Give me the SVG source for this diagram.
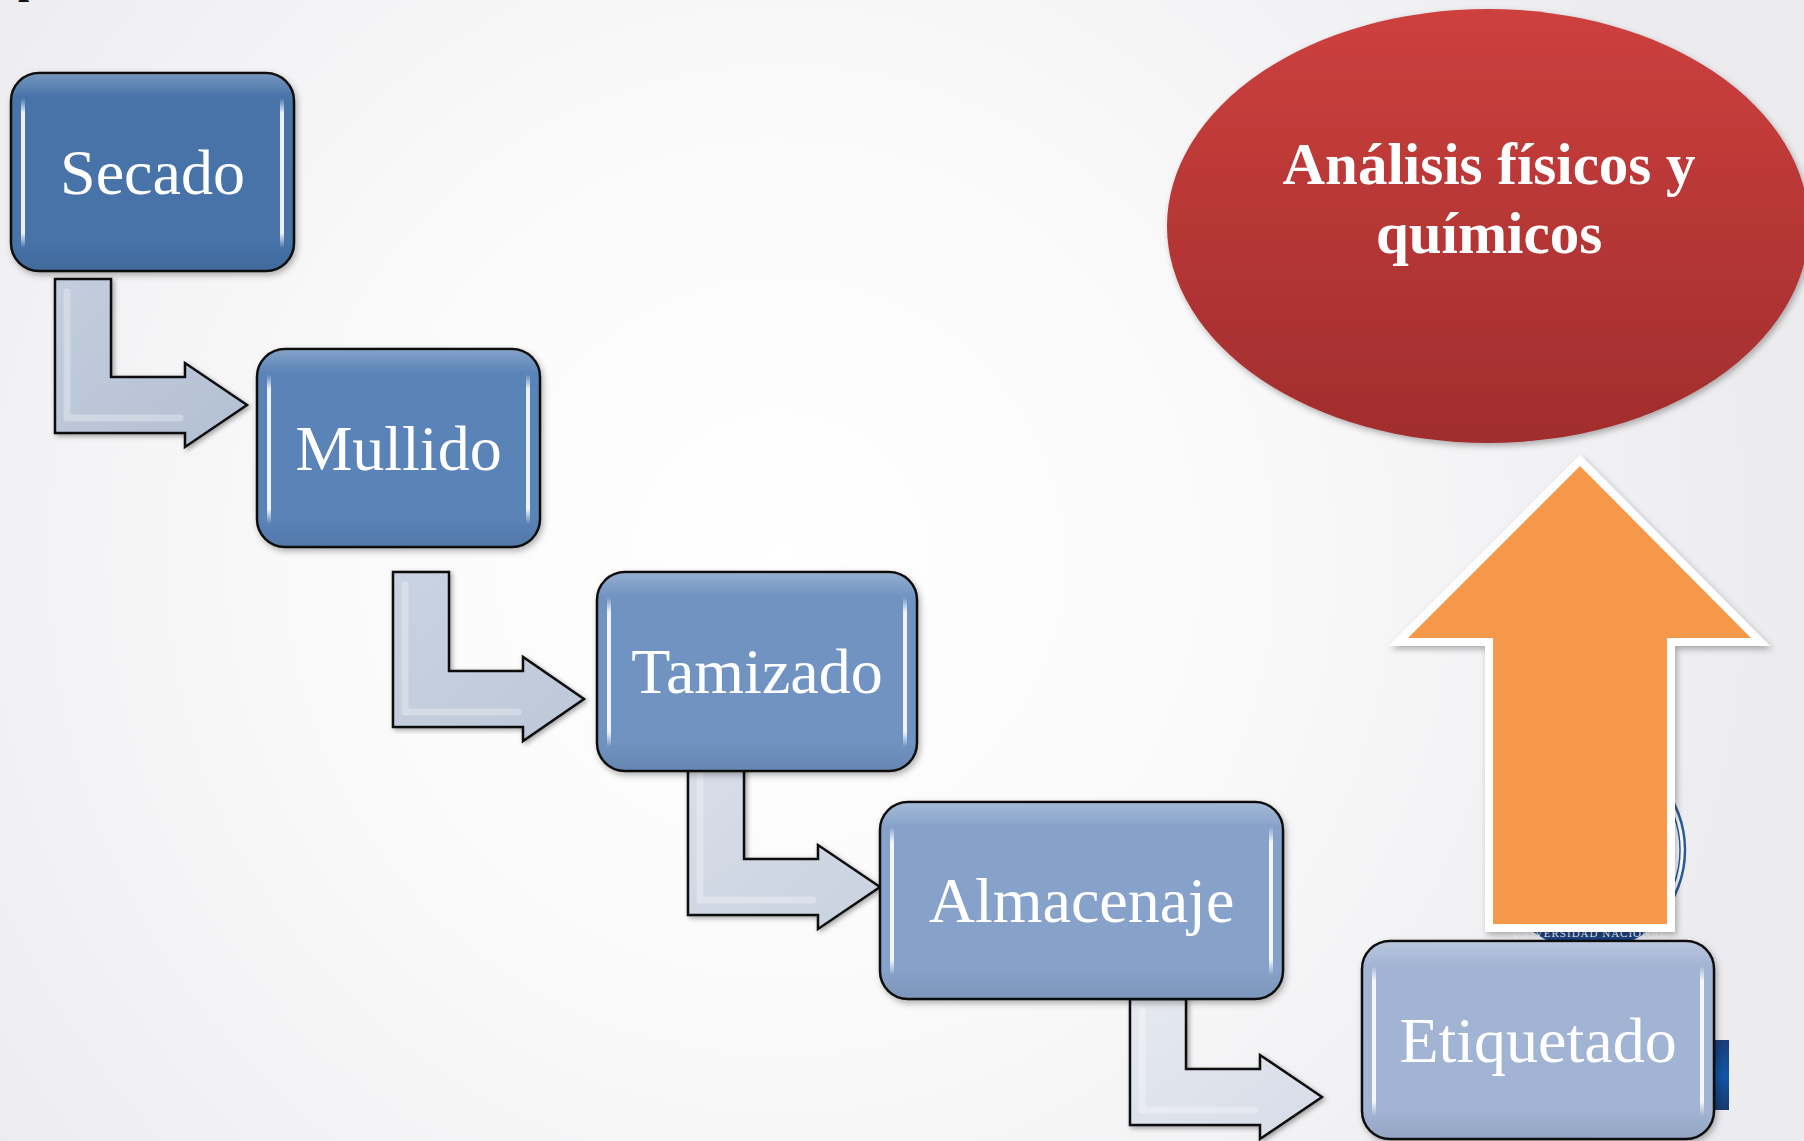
<svg xmlns="http://www.w3.org/2000/svg" width="1804" height="1141" viewBox="0 0 1804 1141">
<defs>
<radialGradient id="bg" cx="780" cy="560" r="1000" gradientUnits="userSpaceOnUse">
<stop offset="0" stop-color="#ffffff"/>
<stop offset="0.45" stop-color="#fafafb"/>
<stop offset="1" stop-color="#ececef"/>
</radialGradient>
<linearGradient id="redg" x1="0" y1="0" x2="0" y2="1">
<stop offset="0" stop-color="#cd403e"/>
<stop offset="1" stop-color="#a02d2d"/>
</linearGradient>
<linearGradient id="gloss" x1="0" y1="0" x2="0" y2="1">
<stop offset="0" stop-color="#fff" stop-opacity="0.25"/>
<stop offset="0.12" stop-color="#fff" stop-opacity="0"/>
<stop offset="0.85" stop-color="#000" stop-opacity="0"/>
<stop offset="1" stop-color="#000" stop-opacity="0.08"/>
</linearGradient>
<linearGradient id="hl" x1="0" y1="0" x2="0" y2="1">
<stop offset="0" stop-color="#fff" stop-opacity="0"/>
<stop offset="0.1" stop-color="#fff" stop-opacity="0.9"/>
<stop offset="0.9" stop-color="#fff" stop-opacity="0.9"/>
<stop offset="1" stop-color="#fff" stop-opacity="0"/>
</linearGradient>
<linearGradient id="a1" x1="0" y1="0" x2="1" y2="1">
<stop offset="0" stop-color="#c3cddd"/><stop offset="1" stop-color="#b3bfd3"/>
</linearGradient>
<linearGradient id="a2" x1="0" y1="0" x2="1" y2="1">
<stop offset="0" stop-color="#cad3e2"/><stop offset="1" stop-color="#bcc7d9"/>
</linearGradient>
<linearGradient id="a3" x1="0" y1="0" x2="1" y2="1">
<stop offset="0" stop-color="#d8dee9"/><stop offset="1" stop-color="#c9d1df"/>
</linearGradient>
<linearGradient id="a4" x1="0" y1="0" x2="1" y2="1">
<stop offset="0" stop-color="#e6e9f0"/><stop offset="1" stop-color="#d6dce7"/>
</linearGradient>
<linearGradient id="navy" x1="0" y1="0" x2="0" y2="1">
<stop offset="0" stop-color="#1b3d78"/><stop offset="0.5" stop-color="#0f56a8"/><stop offset="1" stop-color="#1a3a70"/>
</linearGradient>
<filter id="sh" x="-10%" y="-10%" width="130%" height="130%">
<feDropShadow dx="2" dy="3" stdDeviation="3" flood-color="#000" flood-opacity="0.3"/>
</filter>
<filter id="bev" x="-10%" y="-10%" width="130%" height="130%">
<feDropShadow dx="2" dy="2" stdDeviation="2.5" flood-color="#000" flood-opacity="0.35"/>
</filter>
<clipPath id="logoclip"><ellipse cx="1590" cy="850" rx="95" ry="100"/></clipPath>
</defs>
<style>
.box{stroke:#111;stroke-width:2.5;filter:url(#sh)}
.gl{fill:url(#gloss);stroke:none}
.hl{fill:url(#hl);stroke:none}
.lbl{font-family:"Liberation Serif","Times New Roman",serif;font-size:64px;fill:#fff;text-anchor:middle}
.conn{stroke:#111;stroke-width:2.5;stroke-linejoin:miter;filter:url(#bev)}
.title{font-family:"Liberation Serif","Times New Roman",serif;font-weight:bold;font-size:59px;fill:#fff;text-anchor:middle}
</style>
<rect x="0" y="0" width="1804" height="1141" fill="url(#bg)"/>
<text x="18" y="-7" font-family="Liberation Serif, serif" font-weight="bold" font-size="40" fill="#111">p</text>

<g id="logo">
<ellipse cx="1590" cy="850" rx="95" ry="100" fill="#ffffff" stroke="#2a5b9c" stroke-width="2.5"/>
<ellipse cx="1590" cy="850" rx="90" ry="95" fill="none" stroke="#2a5b9c" stroke-width="1.5"/>
<rect x="1480" y="922" width="220" height="30" fill="#1d4483" clip-path="url(#logoclip)"/>
<text x="1590" y="937" font-family="Liberation Serif, serif" font-size="11" fill="#fff" text-anchor="middle" letter-spacing="1">UNIVERSIDAD  NACIONAL</text>
</g>
<g id="logo-edge">
<rect x="1712" y="1040" width="17" height="70" fill="url(#navy)"/>
</g>

<g id="connectors">
<path class="conn" fill="url(#a1)" d="M55,279 H111 V377 H185 V363 L247,405 L185,447 V433 H55 Z"/>
<path class="conn" fill="url(#a2)" d="M393,572 H449 V671 H523 V657 L584,699 L523,741 V727 H393 Z"/>
<path class="conn" fill="url(#a3)" d="M688,762 H744 V859 H818 V845 L880,887 L818,929 V915 H688 Z"/>
<path class="conn" fill="url(#a4)" d="M1130,999 H1186 V1069 H1260 V1055 L1322,1097 L1260,1139 V1125 H1130 Z"/>
<g fill="none" stroke="#fff" stroke-opacity="0.3" stroke-width="7" stroke-linecap="round" stroke-linejoin="round">
<path d="M67,292 V418 H180"/>
<path d="M405,585 V712 H518"/>
<path d="M700,775 V900 H813"/>
<path d="M1142,1010 V1110 H1255"/>
</g>
<g id="up-arrow" filter="url(#sh)">
<path d="M1580,466 L1751,638 L1667,638 L1667,924 L1493,924 L1493,638 L1408,638 Z" fill="#f59849" stroke="#ffffff" stroke-width="16" stroke-miterlimit="4" paint-order="stroke"/>
</g>
</g>

<g id="node-analisis">
<ellipse cx="1488" cy="226" rx="321" ry="217" fill="url(#redg)" filter="url(#sh)"/>
<text class="title" x="1489" y="184">Análisis físicos y</text>
<text class="title" x="1489" y="253">químicos</text>
</g>

<g id="node-secado">
<rect class="box" x="11" y="73" width="283" height="198" rx="28" fill="#4773a9"/>
<rect class="gl" x="12" y="74" width="281" height="196" rx="27"/>
<rect class="hl" x="21" y="98" width="4" height="150" rx="2"/>
<rect class="hl" x="280" y="98" width="4" height="150" rx="2"/>
<text class="lbl" x="152.5" y="194">Secado</text>
</g>
<g id="node-mullido">
<rect class="box" x="257" y="349" width="283" height="198" rx="28" fill="#5a83b7"/>
<rect class="gl" x="258" y="350" width="281" height="196" rx="27"/>
<rect class="hl" x="267" y="374" width="4" height="150" rx="2"/>
<rect class="hl" x="526" y="374" width="4" height="150" rx="2"/>
<text class="lbl" x="398.5" y="470">Mullido</text>
</g>
<g id="node-tamizado">
<rect class="box" x="597" y="572" width="320" height="199" rx="28" fill="#7093c1"/>
<rect class="gl" x="598" y="573" width="318" height="197" rx="27"/>
<rect class="hl" x="607" y="597" width="4" height="150" rx="2"/>
<rect class="hl" x="903" y="597" width="4" height="150" rx="2"/>
<text class="lbl" x="757" y="693">Tamizado</text>
</g>
<g id="node-almacenaje">
<rect class="box" x="880" y="802" width="403" height="197" rx="28" fill="#87a2ca"/>
<rect class="gl" x="881" y="803" width="401" height="195" rx="27"/>
<rect class="hl" x="890" y="827" width="4" height="148" rx="2"/>
<rect class="hl" x="1269" y="827" width="4" height="148" rx="2"/>
<text class="lbl" x="1081.5" y="922">Almacenaje</text>
</g>
<g id="node-etiquetado">
<rect class="box" x="1362" y="941" width="352" height="198" rx="28" fill="#a2b4d4"/>
<rect class="gl" x="1363" y="942" width="350" height="196" rx="27"/>
<rect class="hl" x="1372" y="966" width="4" height="150" rx="2"/>
<rect class="hl" x="1700" y="966" width="4" height="150" rx="2"/>
<text class="lbl" x="1538" y="1062">Etiquetado</text>
</g>
</svg>
